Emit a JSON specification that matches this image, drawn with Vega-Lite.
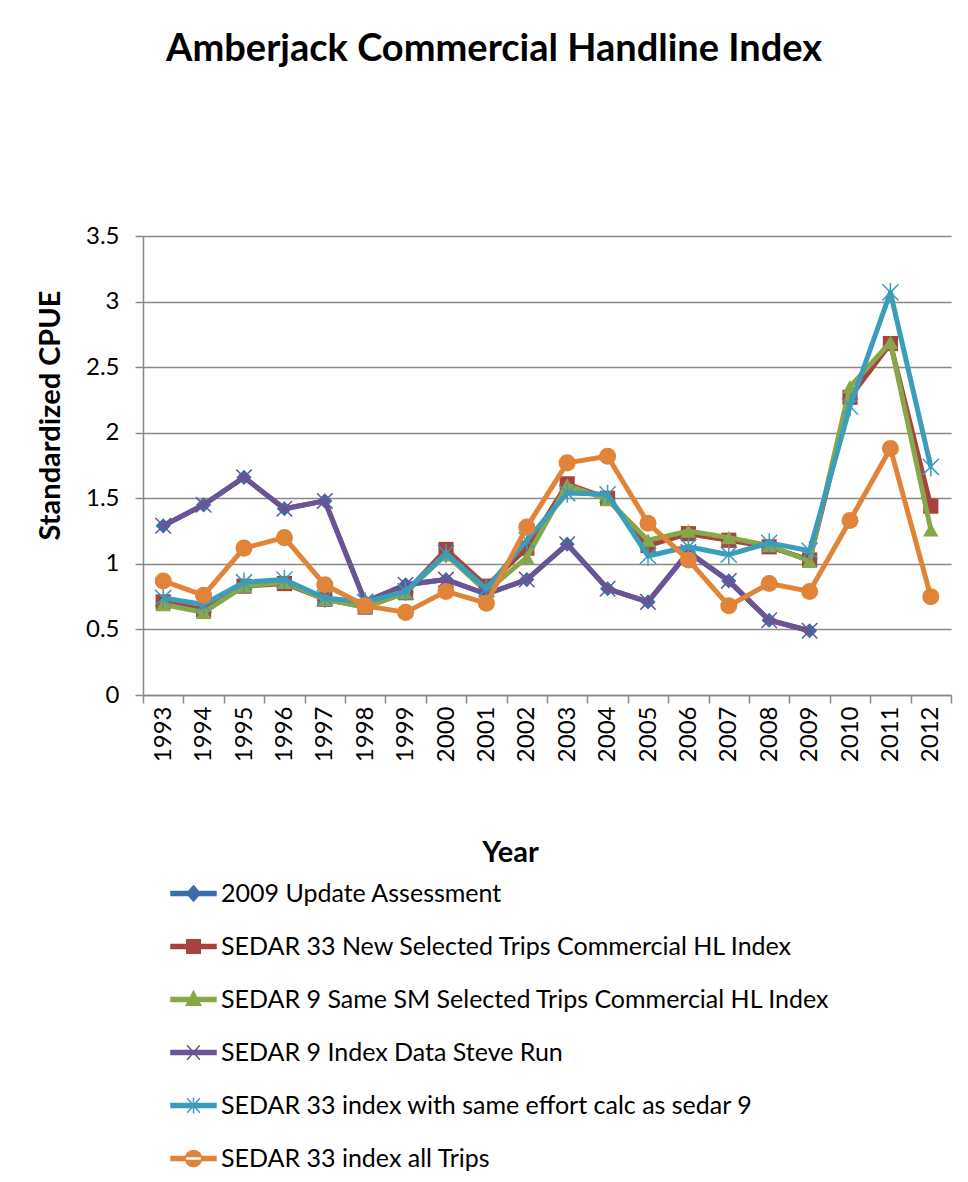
{
  "$schema": "https://vega.github.io/schema/vega-lite/v6.json",
  "width": 808,
  "height": 459,
  "autosize": "none",
  "padding": {"left": 143, "top": 236, "right": 17, "bottom": 487},
  "background": "white",
  "title": {
    "text": "Amberjack Commercial Handline Index",
    "fontSize": 38,
    "fontWeight": "bold",
    "font": "Lato",
    "color": "black",
    "anchor": "middle",
    "frame": "bounds",
    "offset": 155
  },
  "config": {
    "font": "Lato",
    "view": {"stroke": null},
    "axis": {"labelColor": "black", "titleColor": "black", "domainColor": "#898989", "tickColor": "#898989", "gridColor": "#898989"}
  },
  "data": {
    "values": [
      {"year": "1993", "series": "2009 Update Assessment", "value": 1.29},
      {"year": "1994", "series": "2009 Update Assessment", "value": 1.45},
      {"year": "1995", "series": "2009 Update Assessment", "value": 1.66},
      {"year": "1996", "series": "2009 Update Assessment", "value": 1.42},
      {"year": "1997", "series": "2009 Update Assessment", "value": 1.48},
      {"year": "1998", "series": "2009 Update Assessment", "value": 0.71},
      {"year": "1999", "series": "2009 Update Assessment", "value": 0.84},
      {"year": "2000", "series": "2009 Update Assessment", "value": 0.88},
      {"year": "2001", "series": "2009 Update Assessment", "value": 0.77},
      {"year": "2002", "series": "2009 Update Assessment", "value": 0.88},
      {"year": "2003", "series": "2009 Update Assessment", "value": 1.15},
      {"year": "2004", "series": "2009 Update Assessment", "value": 0.81},
      {"year": "2005", "series": "2009 Update Assessment", "value": 0.71},
      {"year": "2006", "series": "2009 Update Assessment", "value": 1.09},
      {"year": "2007", "series": "2009 Update Assessment", "value": 0.87},
      {"year": "2008", "series": "2009 Update Assessment", "value": 0.57},
      {"year": "2009", "series": "2009 Update Assessment", "value": 0.49},

      {"year": "1993", "series": "SEDAR 33 New Selected Trips Commercial HL Index", "value": 0.71},
      {"year": "1994", "series": "SEDAR 33 New Selected Trips Commercial HL Index", "value": 0.65},
      {"year": "1995", "series": "SEDAR 33 New Selected Trips Commercial HL Index", "value": 0.83},
      {"year": "1996", "series": "SEDAR 33 New Selected Trips Commercial HL Index", "value": 0.85},
      {"year": "1997", "series": "SEDAR 33 New Selected Trips Commercial HL Index", "value": 0.73},
      {"year": "1998", "series": "SEDAR 33 New Selected Trips Commercial HL Index", "value": 0.67},
      {"year": "1999", "series": "SEDAR 33 New Selected Trips Commercial HL Index", "value": 0.78},
      {"year": "2000", "series": "SEDAR 33 New Selected Trips Commercial HL Index", "value": 1.11},
      {"year": "2001", "series": "SEDAR 33 New Selected Trips Commercial HL Index", "value": 0.83},
      {"year": "2002", "series": "SEDAR 33 New Selected Trips Commercial HL Index", "value": 1.12},
      {"year": "2003", "series": "SEDAR 33 New Selected Trips Commercial HL Index", "value": 1.61},
      {"year": "2004", "series": "SEDAR 33 New Selected Trips Commercial HL Index", "value": 1.50},
      {"year": "2005", "series": "SEDAR 33 New Selected Trips Commercial HL Index", "value": 1.14},
      {"year": "2006", "series": "SEDAR 33 New Selected Trips Commercial HL Index", "value": 1.23},
      {"year": "2007", "series": "SEDAR 33 New Selected Trips Commercial HL Index", "value": 1.18},
      {"year": "2008", "series": "SEDAR 33 New Selected Trips Commercial HL Index", "value": 1.13},
      {"year": "2009", "series": "SEDAR 33 New Selected Trips Commercial HL Index", "value": 1.03},
      {"year": "2010", "series": "SEDAR 33 New Selected Trips Commercial HL Index", "value": 2.27},
      {"year": "2011", "series": "SEDAR 33 New Selected Trips Commercial HL Index", "value": 2.68},
      {"year": "2012", "series": "SEDAR 33 New Selected Trips Commercial HL Index", "value": 1.44},

      {"year": "1993", "series": "SEDAR 9 Same SM Selected Trips Commercial HL Index", "value": 0.69},
      {"year": "1994", "series": "SEDAR 9 Same SM Selected Trips Commercial HL Index", "value": 0.63},
      {"year": "1995", "series": "SEDAR 9 Same SM Selected Trips Commercial HL Index", "value": 0.83},
      {"year": "1996", "series": "SEDAR 9 Same SM Selected Trips Commercial HL Index", "value": 0.86},
      {"year": "1997", "series": "SEDAR 9 Same SM Selected Trips Commercial HL Index", "value": 0.73},
      {"year": "1998", "series": "SEDAR 9 Same SM Selected Trips Commercial HL Index", "value": 0.67},
      {"year": "1999", "series": "SEDAR 9 Same SM Selected Trips Commercial HL Index", "value": 0.78},
      {"year": "2000", "series": "SEDAR 9 Same SM Selected Trips Commercial HL Index", "value": 1.07},
      {"year": "2001", "series": "SEDAR 9 Same SM Selected Trips Commercial HL Index", "value": 0.79},
      {"year": "2002", "series": "SEDAR 9 Same SM Selected Trips Commercial HL Index", "value": 1.05},
      {"year": "2003", "series": "SEDAR 9 Same SM Selected Trips Commercial HL Index", "value": 1.60},
      {"year": "2004", "series": "SEDAR 9 Same SM Selected Trips Commercial HL Index", "value": 1.49},
      {"year": "2005", "series": "SEDAR 9 Same SM Selected Trips Commercial HL Index", "value": 1.18},
      {"year": "2006", "series": "SEDAR 9 Same SM Selected Trips Commercial HL Index", "value": 1.25},
      {"year": "2007", "series": "SEDAR 9 Same SM Selected Trips Commercial HL Index", "value": 1.20},
      {"year": "2008", "series": "SEDAR 9 Same SM Selected Trips Commercial HL Index", "value": 1.14},
      {"year": "2009", "series": "SEDAR 9 Same SM Selected Trips Commercial HL Index", "value": 1.02},
      {"year": "2010", "series": "SEDAR 9 Same SM Selected Trips Commercial HL Index", "value": 2.35},
      {"year": "2011", "series": "SEDAR 9 Same SM Selected Trips Commercial HL Index", "value": 2.69},
      {"year": "2012", "series": "SEDAR 9 Same SM Selected Trips Commercial HL Index", "value": 1.26},

      {"year": "1993", "series": "SEDAR 9 Index Data Steve Run", "value": 1.29},
      {"year": "1994", "series": "SEDAR 9 Index Data Steve Run", "value": 1.45},
      {"year": "1995", "series": "SEDAR 9 Index Data Steve Run", "value": 1.66},
      {"year": "1996", "series": "SEDAR 9 Index Data Steve Run", "value": 1.42},
      {"year": "1997", "series": "SEDAR 9 Index Data Steve Run", "value": 1.48},
      {"year": "1998", "series": "SEDAR 9 Index Data Steve Run", "value": 0.71},
      {"year": "1999", "series": "SEDAR 9 Index Data Steve Run", "value": 0.84},
      {"year": "2000", "series": "SEDAR 9 Index Data Steve Run", "value": 0.88},
      {"year": "2001", "series": "SEDAR 9 Index Data Steve Run", "value": 0.77},
      {"year": "2002", "series": "SEDAR 9 Index Data Steve Run", "value": 0.88},
      {"year": "2003", "series": "SEDAR 9 Index Data Steve Run", "value": 1.15},
      {"year": "2004", "series": "SEDAR 9 Index Data Steve Run", "value": 0.81},
      {"year": "2005", "series": "SEDAR 9 Index Data Steve Run", "value": 0.71},
      {"year": "2006", "series": "SEDAR 9 Index Data Steve Run", "value": 1.09},
      {"year": "2007", "series": "SEDAR 9 Index Data Steve Run", "value": 0.87},
      {"year": "2008", "series": "SEDAR 9 Index Data Steve Run", "value": 0.57},
      {"year": "2009", "series": "SEDAR 9 Index Data Steve Run", "value": 0.49},

      {"year": "1993", "series": "SEDAR 33 index with same effort calc as sedar 9", "value": 0.74},
      {"year": "1994", "series": "SEDAR 33 index with same effort calc as sedar 9", "value": 0.69},
      {"year": "1995", "series": "SEDAR 33 index with same effort calc as sedar 9", "value": 0.86},
      {"year": "1996", "series": "SEDAR 33 index with same effort calc as sedar 9", "value": 0.88},
      {"year": "1997", "series": "SEDAR 33 index with same effort calc as sedar 9", "value": 0.74},
      {"year": "1998", "series": "SEDAR 33 index with same effort calc as sedar 9", "value": 0.71},
      {"year": "1999", "series": "SEDAR 33 index with same effort calc as sedar 9", "value": 0.79},
      {"year": "2000", "series": "SEDAR 33 index with same effort calc as sedar 9", "value": 1.08},
      {"year": "2001", "series": "SEDAR 33 index with same effort calc as sedar 9", "value": 0.81},
      {"year": "2002", "series": "SEDAR 33 index with same effort calc as sedar 9", "value": 1.18},
      {"year": "2003", "series": "SEDAR 33 index with same effort calc as sedar 9", "value": 1.54},
      {"year": "2004", "series": "SEDAR 33 index with same effort calc as sedar 9", "value": 1.53},
      {"year": "2005", "series": "SEDAR 33 index with same effort calc as sedar 9", "value": 1.06},
      {"year": "2006", "series": "SEDAR 33 index with same effort calc as sedar 9", "value": 1.13},
      {"year": "2007", "series": "SEDAR 33 index with same effort calc as sedar 9", "value": 1.07},
      {"year": "2008", "series": "SEDAR 33 index with same effort calc as sedar 9", "value": 1.16},
      {"year": "2009", "series": "SEDAR 33 index with same effort calc as sedar 9", "value": 1.10},
      {"year": "2010", "series": "SEDAR 33 index with same effort calc as sedar 9", "value": 2.20},
      {"year": "2011", "series": "SEDAR 33 index with same effort calc as sedar 9", "value": 3.07},
      {"year": "2012", "series": "SEDAR 33 index with same effort calc as sedar 9", "value": 1.74},

      {"year": "1993", "series": "SEDAR 33 index all Trips", "value": 0.87},
      {"year": "1994", "series": "SEDAR 33 index all Trips", "value": 0.76},
      {"year": "1995", "series": "SEDAR 33 index all Trips", "value": 1.12},
      {"year": "1996", "series": "SEDAR 33 index all Trips", "value": 1.20},
      {"year": "1997", "series": "SEDAR 33 index all Trips", "value": 0.84},
      {"year": "1998", "series": "SEDAR 33 index all Trips", "value": 0.68},
      {"year": "1999", "series": "SEDAR 33 index all Trips", "value": 0.63},
      {"year": "2000", "series": "SEDAR 33 index all Trips", "value": 0.79},
      {"year": "2001", "series": "SEDAR 33 index all Trips", "value": 0.70},
      {"year": "2002", "series": "SEDAR 33 index all Trips", "value": 1.28},
      {"year": "2003", "series": "SEDAR 33 index all Trips", "value": 1.77},
      {"year": "2004", "series": "SEDAR 33 index all Trips", "value": 1.82},
      {"year": "2005", "series": "SEDAR 33 index all Trips", "value": 1.31},
      {"year": "2006", "series": "SEDAR 33 index all Trips", "value": 1.03},
      {"year": "2007", "series": "SEDAR 33 index all Trips", "value": 0.68},
      {"year": "2008", "series": "SEDAR 33 index all Trips", "value": 0.85},
      {"year": "2009", "series": "SEDAR 33 index all Trips", "value": 0.79},
      {"year": "2010", "series": "SEDAR 33 index all Trips", "value": 1.33},
      {"year": "2011", "series": "SEDAR 33 index all Trips", "value": 1.88},
      {"year": "2012", "series": "SEDAR 33 index all Trips", "value": 0.75}
    ]
  },
  "encoding": {
    "x": {
      "field": "year",
      "type": "ordinal",
      "scale": {"type": "band", "paddingInner": 0, "paddingOuter": 0},
      "axis": {
        "title": "Year",
        "titleFontSize": 29,
        "titleFontWeight": "bold",
        "titleBaseline": "middle",
        "titleY": 157,
        "titleX": 367,
        "labelAngle": -90,
        "labelFontSize": 24,
        "labelPadding": 3,
        "tickSize": 8,
        "tickBand": "extent",
        "domainWidth": 1.5,
        "tickWidth": 1.5,
        "grid": false
      }
    },
    "y": {
      "field": "value",
      "type": "quantitative",
      "scale": {"domain": [0, 3.5], "nice": false, "zero": true},
      "axis": {
        "title": "Standardized CPUE",
        "titleFontSize": 29,
        "titleFontWeight": "bold",
        "titlePadding": 20,
        "titleY": 179,
        "values": [0, 0.5, 1, 1.5, 2, 2.5, 3, 3.5],
        "format": "~g",
        "labelFontSize": 24,
        "labelPadding": 16,
        "tickSize": 8,
        "tickWidth": 1.5,
        "domainWidth": 1.5,
        "grid": true,
        "gridWidth": 1.5
      }
    },
    "color": {
      "field": "series",
      "type": "nominal",
      "scale": {
        "domain": [
          "2009 Update Assessment",
          "SEDAR 33 New Selected Trips Commercial HL Index",
          "SEDAR 9 Same SM Selected Trips Commercial HL Index",
          "SEDAR 9 Index Data Steve Run",
          "SEDAR 33 index with same effort calc as sedar 9",
          "SEDAR 33 index all Trips"
        ],
        "range": ["#3C6DA8", "#A8423F", "#88A64A", "#6C5393", "#3A9DBA", "#E0843A"]
      },
      "legend": {
        "title": null,
        "orient": "none",
        "legendX": 27,
        "legendY": 634,
        "direction": "vertical",
        "labelFontSize": 25,
        "labelColor": "black",
        "labelLimit": 800,
        "labelOffset": 4,
        "symbolSize": 2025,
        "rowPadding": 16,
        "symbolType": {"expr": "datum.value === '2009 Update Assessment' ? 'M-1,-0.09H1V0.09H-1Z M0,-0.34L0.3,0L0,0.34L-0.3,0Z' : datum.value === 'SEDAR 33 New Selected Trips Commercial HL Index' ? 'M-1,-0.09H1V0.09H-1Z M-0.3,-0.3H0.3V0.3H-0.3Z' : datum.value === 'SEDAR 9 Same SM Selected Trips Commercial HL Index' ? 'M-1,-0.09H1V0.09H-1Z M0,-0.36L0.32,0.26H-0.32Z' : datum.value === 'SEDAR 9 Index Data Steve Run' ? 'M-1,-0.09H1V0.09H-1Z M-0.28,-0.32L0.28,0.32M-0.28,0.32L0.28,-0.32' : datum.value === 'SEDAR 33 index with same effort calc as sedar 9' ? 'M-1,-0.09H1V0.09H-1Z M-0.28,-0.32L0.28,0.32M-0.28,0.32L0.28,-0.32M0,-0.36V0.36' : 'M-1,-0.09H1V0.09H-1Z M-0.36,0A0.36,0.36,0,1,0,0.36,0A0.36,0.36,0,1,0,-0.36,0Z'"}
      }
    }
  },
  "layer": [
    {"transform": [{"filter": "datum.series === '2009 Update Assessment'"}], "mark": {"type": "line", "strokeWidth": 5, "strokeJoin": "round"}},
    {"transform": [{"filter": "datum.series === '2009 Update Assessment'"}], "mark": {"type": "point", "filled": true, "opacity": 1, "shape": "diamond", "size": 230}},
    {"transform": [{"filter": "datum.series === 'SEDAR 33 New Selected Trips Commercial HL Index'"}], "mark": {"type": "line", "strokeWidth": 5, "strokeJoin": "round"}},
    {"transform": [{"filter": "datum.series === 'SEDAR 33 New Selected Trips Commercial HL Index'"}], "mark": {"type": "point", "filled": true, "opacity": 1, "shape": "square", "size": 230}},
    {"transform": [{"filter": "datum.series === 'SEDAR 9 Same SM Selected Trips Commercial HL Index'"}], "mark": {"type": "line", "strokeWidth": 5, "strokeJoin": "round"}},
    {"transform": [{"filter": "datum.series === 'SEDAR 9 Same SM Selected Trips Commercial HL Index'"}], "mark": {"type": "point", "filled": true, "opacity": 1, "shape": "triangle-up", "size": 240}},
    {"transform": [{"filter": "datum.series === 'SEDAR 9 Index Data Steve Run'"}], "mark": {"type": "line", "strokeWidth": 5, "strokeJoin": "round"}},
    {"transform": [{"filter": "datum.series === 'SEDAR 9 Index Data Steve Run'"}], "mark": {"type": "point", "filled": true, "opacity": 1, "shape": "M-1,-1L1,1M-1,1L1,-1", "size": 240, "stroke": "#6C5393", "strokeWidth": 1.5}},
    {"transform": [{"filter": "datum.series === 'SEDAR 33 index with same effort calc as sedar 9'"}], "mark": {"type": "line", "strokeWidth": 5, "strokeJoin": "round"}},
    {"transform": [{"filter": "datum.series === 'SEDAR 33 index with same effort calc as sedar 9'"}], "mark": {"type": "point", "filled": true, "opacity": 1, "shape": "M-1,-1L1,1M-1,1L1,-1M0,-1.2V1.2", "size": 260, "stroke": "#3A9DBA", "strokeWidth": 1.5}},
    {"transform": [{"filter": "datum.series === 'SEDAR 33 index all Trips'"}], "mark": {"type": "line", "strokeWidth": 5, "strokeJoin": "round"}},
    {"transform": [{"filter": "datum.series === 'SEDAR 33 index all Trips'"}], "mark": {"type": "point", "filled": true, "opacity": 1, "shape": "circle", "size": 290}}
  ]
}
